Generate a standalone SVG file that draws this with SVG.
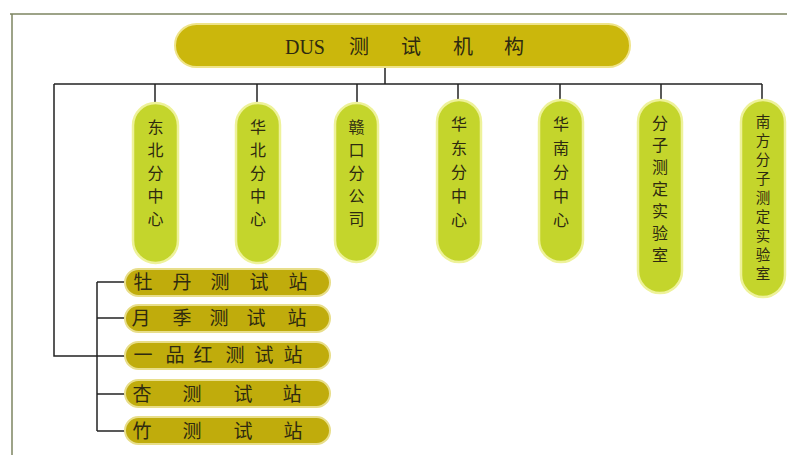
<svg xmlns="http://www.w3.org/2000/svg" width="787" height="455" viewBox="0 0 787 455">
<style>
.frame{stroke:#7d8560;stroke-width:1.5;fill:none}
.conn line,.conn polyline{stroke:#222;stroke-width:1.5;fill:none}
.top{fill:#cbb70c;stroke:#efe48a;stroke-width:2}
.vp{fill:#c4d52c;stroke:#eef29a;stroke-width:2.5}
.hp{fill:#c0ac0c;stroke:#e8de8a;stroke-width:2}
.t{font-family:"Noto Sans CJK SC","Liberation Serif",serif;fill:#2e2a10;text-anchor:middle}
.tv{font-size:16px}
.tv2{font-size:14.5px}
.th{font-size:19px}
</style>
<rect width="787" height="455" fill="#ffffff"/>
<g id="frame">
<line class="frame" x1="10" y1="14" x2="787" y2="14"/>
<line class="frame" x1="12" y1="14" x2="12" y2="455"/>
</g>
<g class="conn" id="connectors">
<line x1="385" y1="67" x2="385" y2="84"/>
<line x1="54" y1="84" x2="762" y2="84"/>
<line x1="155" y1="84" x2="155" y2="103"/>
<line x1="257" y1="84" x2="257" y2="103"/>
<line x1="357" y1="84" x2="357" y2="103"/>
<line x1="458" y1="84" x2="458" y2="100"/>
<line x1="560" y1="84" x2="560" y2="100"/>
<line x1="661" y1="84" x2="661" y2="100"/>
<line x1="762" y1="84" x2="762" y2="100"/>
<polyline points="54,84 54,356 125,356"/>
<line x1="97" y1="282" x2="97" y2="431"/>
<line x1="97" y1="282" x2="125" y2="282"/>
<line x1="97" y1="318" x2="125" y2="318"/>
<line x1="97" y1="394" x2="125" y2="394"/>
<line x1="97" y1="431" x2="125" y2="431"/>
</g>
<g id="root">
<rect class="top" x="175" y="24" width="455" height="43" rx="21.5"/>
<text class="t" y="54" font-size="20"><tspan x="305" font-family="Liberation Serif,serif">DUS</tspan><tspan x="359">测</tspan><tspan x="411">试</tspan><tspan x="463">机</tspan><tspan x="514">构</tspan></text>
</g>
<g id="n1">
<rect class="vp" x="133" y="103" width="45" height="160" rx="22.5"/>
<text class="t tv"><tspan x="155.5" y="133">东</tspan><tspan x="155.5" y="156">北</tspan><tspan x="155.5" y="179">分</tspan><tspan x="155.5" y="202">中</tspan><tspan x="155.5" y="225">心</tspan></text>
</g>
<g id="n2">
<rect class="vp" x="236" y="103" width="44" height="160" rx="22"/>
<text class="t tv"><tspan x="258" y="133">华</tspan><tspan x="258" y="156">北</tspan><tspan x="258" y="179">分</tspan><tspan x="258" y="202">中</tspan><tspan x="258" y="225">心</tspan></text>
</g>
<g id="n3">
<rect class="vp" x="335" y="103" width="43" height="159" rx="21.5"/>
<text class="t tv"><tspan x="356.5" y="133">赣</tspan><tspan x="356.5" y="156">口</tspan><tspan x="356.5" y="179">分</tspan><tspan x="356.5" y="202">公</tspan><tspan x="356.5" y="225">司</tspan></text>
</g>
<g id="n4">
<rect class="vp" x="437" y="100" width="44" height="162" rx="22"/>
<text class="t tv"><tspan x="459" y="130">华</tspan><tspan x="459" y="154">东</tspan><tspan x="459" y="178">分</tspan><tspan x="459" y="202">中</tspan><tspan x="459" y="226">心</tspan></text>
</g>
<g id="n5">
<rect class="vp" x="539" y="100" width="44" height="162" rx="22"/>
<text class="t tv"><tspan x="561" y="130">华</tspan><tspan x="561" y="154">南</tspan><tspan x="561" y="178">分</tspan><tspan x="561" y="202">中</tspan><tspan x="561" y="226">心</tspan></text>
</g>
<g id="n6">
<rect class="vp" x="638" y="100" width="44" height="193" rx="22"/>
<text class="t tv"><tspan x="660" y="129">分</tspan><tspan x="660" y="151">子</tspan><tspan x="660" y="173">测</tspan><tspan x="660" y="195">定</tspan><tspan x="660" y="217">实</tspan><tspan x="660" y="239">验</tspan><tspan x="660" y="261">室</tspan></text>
</g>
<g id="n7">
<rect class="vp" x="741" y="100" width="44" height="197" rx="22"/>
<text class="t tv2"><tspan x="763" y="127">南</tspan><tspan x="763" y="146">方</tspan><tspan x="763" y="165">分</tspan><tspan x="763" y="184">子</tspan><tspan x="763" y="203">测</tspan><tspan x="763" y="222">定</tspan><tspan x="763" y="241">实</tspan><tspan x="763" y="260">验</tspan><tspan x="763" y="279">室</tspan></text>
</g>
<g id="s1">
<rect class="hp" x="125" y="269" width="205" height="27" rx="13.5"/>
<text class="t th" y="289"><tspan x="143">牡</tspan><tspan x="182">丹</tspan><tspan x="220">测</tspan><tspan x="259">试</tspan><tspan x="298">站</tspan></text>
</g>
<g id="s2">
<rect class="hp" x="125" y="305" width="205" height="27" rx="13.5"/>
<text class="t th" y="325"><tspan x="141">月</tspan><tspan x="182">季</tspan><tspan x="219">测</tspan><tspan x="256">试</tspan><tspan x="297">站</tspan></text>
</g>
<g id="s3">
<rect class="hp" x="125" y="342" width="205" height="27" rx="13.5"/>
<text class="t th" y="362"><tspan x="143">一</tspan><tspan x="175">品</tspan><tspan x="203">红</tspan><tspan x="235">测</tspan><tspan x="264">试</tspan><tspan x="293">站</tspan></text>
</g>
<g id="s4">
<rect class="hp" x="125" y="380" width="205" height="27" rx="13.5"/>
<text class="t th" y="401"><tspan x="142">杏</tspan><tspan x="192">测</tspan><tspan x="243">试</tspan><tspan x="292">站</tspan></text>
</g>
<g id="s5">
<rect class="hp" x="125" y="417" width="205" height="27" rx="13.5"/>
<text class="t th" y="438"><tspan x="142">竹</tspan><tspan x="192">测</tspan><tspan x="243">试</tspan><tspan x="293">站</tspan></text>
</g>
</svg>
